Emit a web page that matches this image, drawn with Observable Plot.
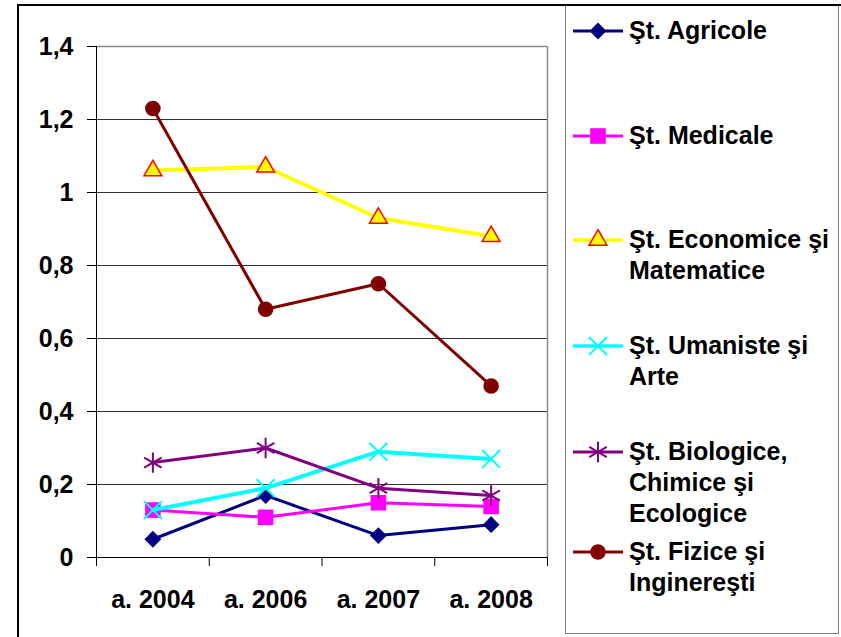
<!DOCTYPE html>
<html><head><meta charset="utf-8">
<script src="https://cdn.jsdelivr.net/npm/d3@7"></script>
<script src="https://cdn.jsdelivr.net/npm/@observablehq/plot@0.6"></script>
<style>
body{margin:0;background:#fff;font-family:"Liberation Sans",Arial,sans-serif;}
#wrap{position:relative;width:841px;height:637px;overflow:hidden;background:#fff}
#chart{position:absolute;left:0;top:0}
#frame{position:absolute;left:17px;top:4px;width:840px;height:650px;border-left:2px solid #000;border-top:2px solid #000;pointer-events:none}
#legend{position:absolute;left:565px;top:6px;width:272px;height:627px;border-left:1.5px solid #808080;border-right:1.5px solid #808080;border-bottom:1.5px solid #808080}
.item{position:absolute;left:0;width:272px}
.item svg{position:absolute;left:6px;top:0}
.item .lab{position:absolute;left:63px;top:0;font-size:25px;font-weight:bold;line-height:31px;color:#000;white-space:nowrap}
</style></head>
<body><div id="wrap"><div id="chart"></div><div id="legend"></div><div id="frame"></div></div>
<script>
const years = ["a. 2004", "a. 2006", "a. 2007", "a. 2008"];
const seriesNames = ["Şt. Agricole", "Şt. Medicale", "Şt. Economice şi Matematice", "Şt. Umaniste şi Arte", "Şt. Biologice, Chimice şi Ecologice", "Şt. Fizice şi Inginereşti"];
const legendLines = [["Şt. Agricole"], ["Şt. Medicale"], ["Şt. Economice şi", "Matematice"], ["Şt. Umaniste şi", "Arte"], ["Şt. Biologice,", "Chimice şi", "Ecologice"], ["Şt. Fizice şi", "Inginereşti"]];
const agricole = [0.05, 0.17, 0.06, 0.09];
const medicale = [0.13, 0.11, 0.15, 0.14];
const economice = [1.06, 1.07, 0.93, 0.88];
const umaniste = [0.13, 0.19, 0.29, 0.27];
const biologice = [0.26, 0.30, 0.19, 0.17];
const fizice = [1.23, 0.68, 0.75, 0.47];
const yTicks = [0, 0.2, 0.4, 0.6, 0.8, 1, 1.2, 1.4];

const allValues = [agricole, medicale, economice, umaniste, biologice, fizice];
const styles = [
  {color: "#000080", symbol: "diamond2", r: 7.6, fill: "#000080", stroke: "none", sw: 0},
  {color: "#FF00FF", symbol: "square", r: 8.8, fill: "#FF00FF", stroke: "none", sw: 0},
  {color: "#FFFF00", symbol: "triangle", r: 6.6, fill: "#FFFF00", stroke: "#FF0000", sw: 1.5},
  {color: "#00FFFF", symbol: "times", r: 8.2, fill: "none", stroke: "#00FFFF", sw: 2},
  {color: "#800080", symbol: "asterisk", r: 9.6, fill: "none", stroke: "#800080", sw: 2},
  {color: "#800000", symbol: "circle", r: 7.8, fill: "#800000", stroke: "none", sw: 0}
];
const lineWidths = [3, 3, 4, 4, 3, 3];

const fmt = d => String(d).replace(".", ",");

const marks = [
  Plot.ruleY(yTicks.filter(d => d > 0 && d < 1.4), {stroke: "#333", strokeWidth: 1, strokeOpacity: 1}),
  Plot.ruleY([1.4], {stroke: "#888", strokeWidth: 1.5}),
  Plot.ruleX([4], {y1: 0, y2: 1.4, stroke: "#888", strokeWidth: 1.5}),
  Plot.ruleX([0], {y1: 0, y2: 1.4, stroke: "#000", strokeWidth: 1}),
  Plot.ruleY([0], {stroke: "#000", strokeWidth: 1}),
  Plot.axisY({ticks: yTicks, tickSize: 9, tickPadding: 14, tickFormat: fmt, fontSize: 25, fontWeight: "bold", fill: "#000", label: null}),
  Plot.axisX({ticks: [0, 1, 2, 3, 4], tickSize: 9, tickFormat: () => "", label: null}),
  Plot.axisX({ticks: [0.5, 1.5, 2.5, 3.5], tickSize: 0, tickPadding: 33, tickFormat: d => years[Math.floor(d)], fontSize: 25, fontWeight: "bold", fill: "#000", label: null})
];
allValues.forEach((vals, s) => {
  const data = vals.map((v, i) => ({x: i + 0.5, y: v}));
  const st = styles[s];
  marks.push(Plot.line(data, {x: "x", y: "y", stroke: st.color, strokeWidth: lineWidths[s]}));
  marks.push(Plot.dot(data, {x: "x", y: "y", symbol: () => st.symbol, r: st.r, fill: st.fill, stroke: st.stroke, strokeWidth: st.sw}));
});

const chart = Plot.plot({
  width: 565, height: 637,
  marginLeft: 96, marginRight: 18, marginTop: 46, marginBottom: 80,
  style: {fontFamily: "'Liberation Sans', Arial, sans-serif", background: "transparent", overflow: "visible"},
  x: {type: "linear", domain: [0, 4], axis: null},
  y: {domain: [0, 1.4], axis: null},
  marks
});
document.getElementById("chart").appendChild(chart);

// legend
const legend = d3.select("#legend");
const centersY = [31, 136, 240, 346, 452, 552];
const symMap = {diamond2: d3.symbolDiamond2, square: d3.symbolSquare, triangle: d3.symbolTriangle, times: d3.symbolTimes, asterisk: d3.symbolAsterisk, circle: d3.symbolCircle};
seriesNames.forEach((name, s) => {
  const st = styles[s];
  const item = legend.append("div").attr("class", "item").style("top", (centersY[s] - 6 - 16) + "px");
  const svg = item.append("svg").attr("width", 52).attr("height", 31);
  svg.append("line").attr("x1", 1).attr("x2", 51).attr("y1", 16).attr("y2", 16).attr("stroke", st.color).attr("stroke-width", lineWidths[s] === 4 ? 3.5 : 3);
  svg.append("path").attr("transform", "translate(26,16)")
    .attr("d", d3.symbol(symMap[st.symbol], Math.PI * st.r * st.r)())
    .attr("fill", st.fill).attr("stroke", st.stroke).attr("stroke-width", st.sw);
  item.append("div").attr("class", "lab").html(legendLines[s].join("<br>"));
});
</script></body></html>
